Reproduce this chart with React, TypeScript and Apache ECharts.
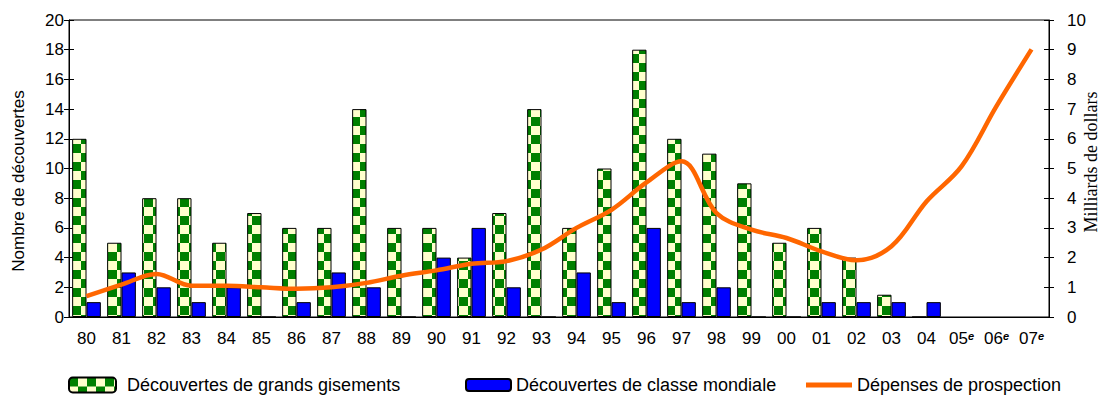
import { useEffect, useRef } from 'react';
import * as echarts from 'echarts';

// Years on the category axis (two-digit); the last three are estimates.
const years = ['80', '81', '82', '83', '84', '85', '86', '87', '88', '89', '90', '91', '92', '93', '94', '95', '96', '97', '98', '99', '00', '01', '02', '03', '04', '05', '06', '07'];
const estimatedYears = ['05', '06', '07'];

// Number of large deposits discovered per year.
const grandsGisements = [12, 5, 8, 8, 5, 7, 6, 6, 14, 6, 6, 4, 7, 14, 6, 10, 18, 12, 11, 9, 5, 6, 4, 1.5, 0, null, null, null];
// Number of world-class discoveries per year.
const classeMondiale = [1, 3, 2, 1, 2, 0, 1, 3, 2, 0, 4, 6, 2, 0, 3, 1, 6, 1, 2, 0, 0, 1, 1, 1, 1, null, null, null];
// Exploration spending, billions of dollars.
const depenses = [0.7, 1.09, 1.45, 1.05, 1.05, 1.0, 0.95, 1.0, 1.15, 1.39, 1.57, 1.79, 1.88, 2.27, 3.0, 3.61, 4.53, 5.24, 3.5, 2.94, 2.66, 2.21, 1.91, 2.38, 3.89, 5.07, 7.1, 9.01];

const SERIES_NAMES = ['Découvertes de grands gisements', 'Découvertes de classe mondiale', 'Dépenses de prospection'];
const LEFT_NAME = 'Nombre de découvertes';
const RIGHT_NAME = 'Milliards de dollars';

const SANS = '"Liberation Sans", Arial, sans-serif';
const SERIF = '"Liberation Serif", "Times New Roman", serif';

function checkerTile(size: number): HTMLCanvasElement {
  const c = document.createElement('canvas');
  c.width = size * 2;
  c.height = size * 2;
  const ctx = c.getContext('2d')!;
  ctx.fillStyle = '#FFFFCC';
  ctx.fillRect(0, 0, size * 2, size * 2);
  ctx.fillStyle = '#008000';
  ctx.fillRect(0, 0, size, size);
  ctx.fillRect(size, size, size, size);
  return c;
}

export default function App() {
  const ref = useRef<HTMLDivElement>(null);

  useEffect(() => {
    if (!ref.current) return;
    const chart = echarts.init(ref.current, undefined, { renderer: 'svg' });
    const tile = checkerTile(9);
    const checker: any = { image: tile, repeat: 'repeat', imageWidth: 18, imageHeight: 18 };

    const tickLine = { color: '#000', width: 1 };
    const legendText = { fontSize: 18, color: '#000', fontFamily: SANS };

    const option: any = {
      animation: false,
      backgroundColor: '#ffffff',
      textStyle: { fontFamily: SANS },
      grid: { left: 69, right: 57, top: 20, bottom: 81, show: true, borderColor: '#000', borderWidth: 1, backgroundColor: 'transparent' },
      xAxis: [
        {
          type: 'category',
          data: years,
          position: 'bottom',
          axisLine: { lineStyle: tickLine },
          axisTick: { length: 5, lineStyle: tickLine },
          axisLabel: {
            color: '#000',
            fontSize: 17,
            fontFamily: SANS,
            margin: 13,
            interval: 0,
            formatter: (v: string) => (estimatedYears.includes(v) ? v + '{e|e}' : v),
            rich: {
              e: { fontSize: 11, fontStyle: 'italic', fontWeight: 'bold', color: '#000', verticalAlign: 'top', fontFamily: SANS },
            },
          },
        },
        {
          type: 'category',
          data: years,
          position: 'bottom',
          axisLine: { show: false },
          axisTick: { inside: true, length: 4, lineStyle: tickLine },
          axisLabel: { show: false },
        },
      ],
      yAxis: [
        {
          type: 'value',
          min: 0,
          max: 20,
          interval: 2,
          position: 'left',
          axisLine: { show: true, lineStyle: tickLine },
          axisTick: { show: true, length: 5, lineStyle: tickLine },
          splitLine: { show: false },
          axisLabel: { color: '#000', fontSize: 17, fontFamily: SANS, margin: 5 },
        },
        {
          type: 'value',
          min: 0,
          max: 10,
          interval: 1,
          position: 'right',
          axisLine: { show: true, lineStyle: tickLine },
          axisTick: { show: true, length: 5, lineStyle: tickLine },
          splitLine: { show: false },
          axisLabel: { color: '#000', fontSize: 17, fontFamily: SANS, margin: 18 },
        },
        {
          type: 'value',
          min: 0,
          max: 20,
          interval: 2,
          position: 'left',
          axisLine: { show: false },
          axisTick: { show: true, inside: true, length: 5, lineStyle: tickLine },
          splitLine: { show: false },
          axisLabel: { show: false },
        },
        {
          type: 'value',
          min: 0,
          max: 10,
          interval: 1,
          position: 'right',
          axisLine: { show: false },
          axisTick: { show: true, inside: true, length: 5, lineStyle: tickLine },
          splitLine: { show: false },
          axisLabel: { show: false },
        },
      ],
      legend: [
        {
          data: [SERIES_NAMES[0]],
          left: 68,
          top: 376,
          padding: 0,
          itemWidth: 47,
          itemHeight: 15,
          selectedMode: false,
          textStyle: { ...legendText, padding: [0, 0, 0, 6] },
        },
        {
          data: [SERIES_NAMES[1]],
          left: 465,
          top: 376,
          padding: 0,
          itemWidth: 45,
          itemHeight: 12,
          selectedMode: false,
          textStyle: legendText,
        },
        {
          data: [{ name: SERIES_NAMES[2], icon: 'rect' }],
          left: 806,
          top: 376,
          padding: 0,
          itemWidth: 46,
          itemHeight: 5,
          selectedMode: false,
          textStyle: legendText,
        },
      ],
      graphic: [
        {
          type: 'text',
          x: 18,
          y: 181,
          rotation: Math.PI / 2,
          style: { text: LEFT_NAME, fontSize: 17, fontFamily: SANS, fill: '#000', align: 'center', verticalAlign: 'middle' },
        },
        {
          type: 'text',
          x: 1091,
          y: 162,
          rotation: Math.PI / 2,
          style: { text: RIGHT_NAME, fontSize: 18, fontFamily: SERIF, fill: '#000', align: 'center', verticalAlign: 'middle' },
        },
      ],
      series: [
        {
          name: SERIES_NAMES[0],
          type: 'bar',
          xAxisIndex: 0,
          yAxisIndex: 0,
          data: grandsGisements,
          barGap: '0%',
          barCategoryGap: '18%',
          itemStyle: { color: checker, borderColor: '#000', borderWidth: 1 },
        },
        {
          name: SERIES_NAMES[1],
          type: 'bar',
          xAxisIndex: 0,
          yAxisIndex: 0,
          data: classeMondiale,
          barGap: '0%',
          barCategoryGap: '18%',
          itemStyle: { color: '#0000FF', borderColor: '#000', borderWidth: 1 },
        },
        {
          name: SERIES_NAMES[2],
          type: 'line',
          xAxisIndex: 0,
          yAxisIndex: 1,
          data: depenses,
          smooth: 0.35,
          symbol: 'none',
          color: '#FF6600',
          itemStyle: { color: '#FF6600' },
          lineStyle: { color: '#FF6600', width: 4.5 },
          z: 5,
        },
      ],
    };

    chart.setOption(option);

    // Start the checker pattern at each bar's own top-left corner.
    try {
      const seriesModel = (chart as any).getModel().getSeriesByIndex(0);
      const data = seriesModel.getData();
      const items = grandsGisements.map((v, i) => {
        const l = data.getItemLayout(i);
        if (v == null || !l) return v;
        const top = Math.min(l.y, l.y + l.height);
        return { value: v, itemStyle: { color: { ...checker, x: l.x, y: top } } };
      });
      chart.setOption({ series: [{ data: items }] });
    } catch (e) {
      // keep the shared pattern
    }

    return () => chart.dispose();
  }, []);

  return (
    <div
      ref={ref}
      style={{ position: 'absolute', left: 0, top: 0, width: 1106, height: 398, background: '#fff' }}
    />
  );
}
